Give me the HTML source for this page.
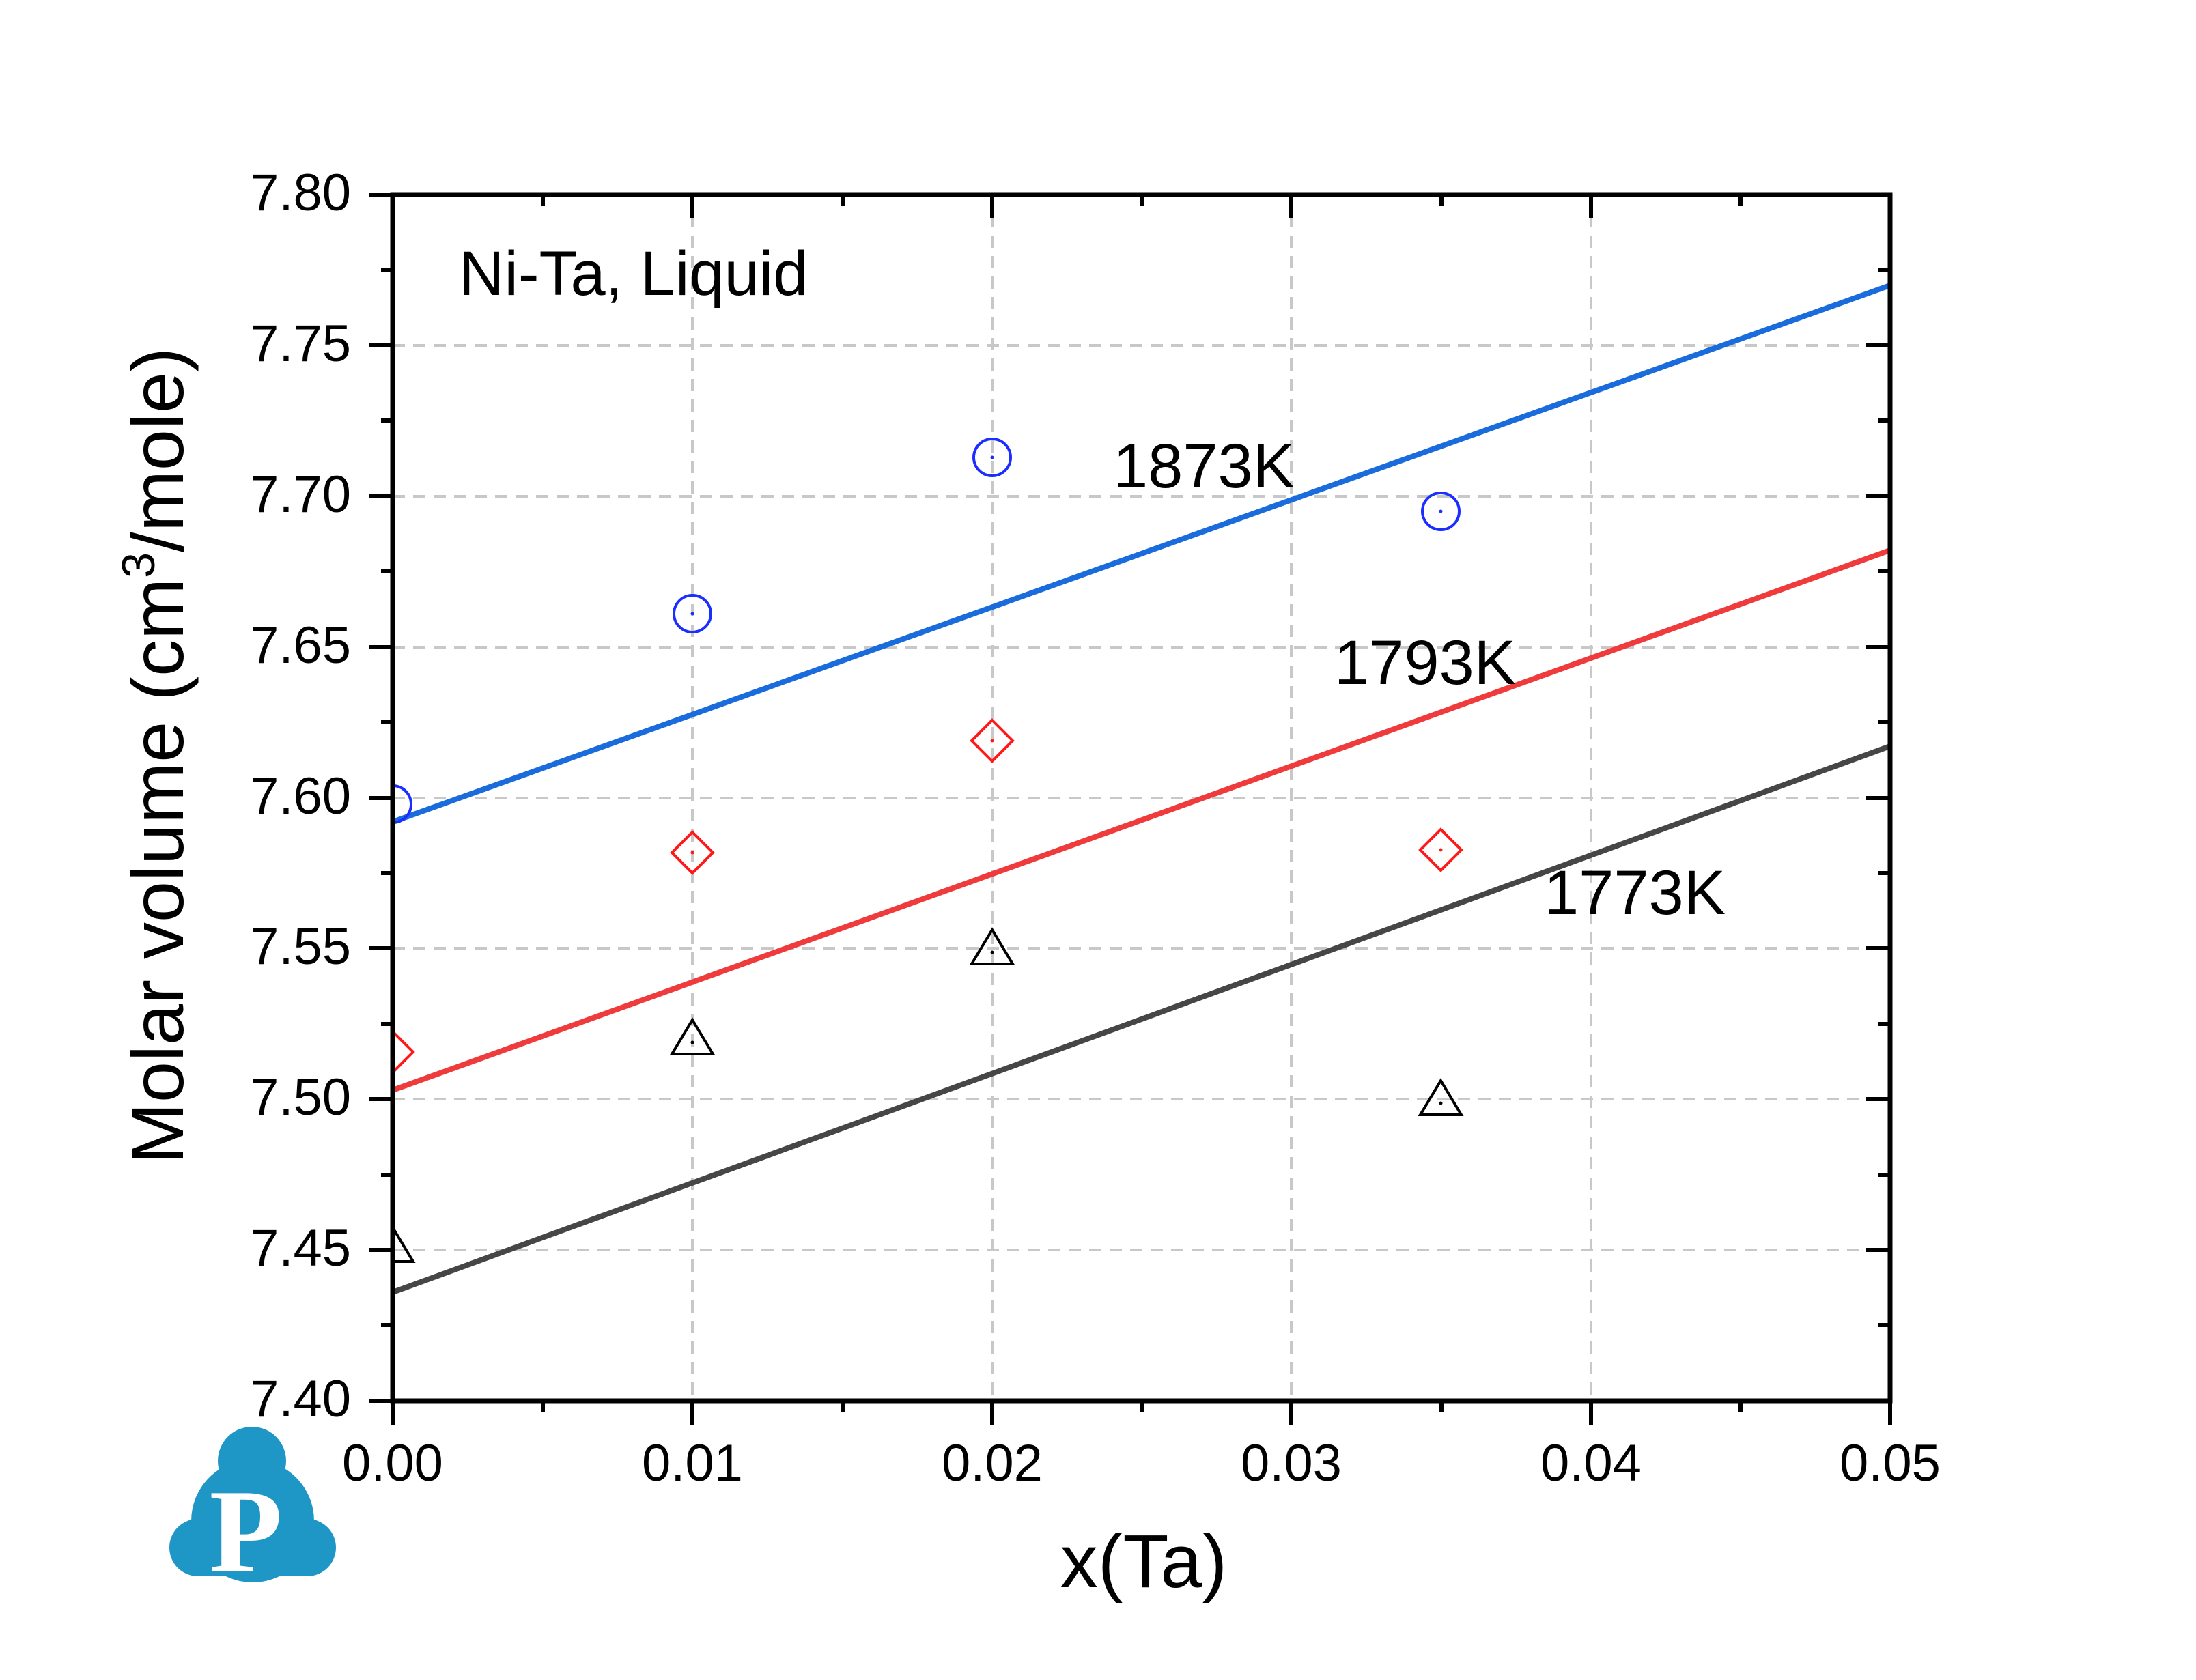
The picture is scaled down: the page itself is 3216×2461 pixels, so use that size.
<!DOCTYPE html>
<html><head><meta charset="utf-8"><style>html,body{margin:0;padding:0;background:#fff}svg{display:block}</style></head>
<body>
<svg width="3216" height="2461" viewBox="0 0 3216 2461" xmlns="http://www.w3.org/2000/svg" font-family="Liberation Sans, Arial, sans-serif">
<defs><clipPath id="pc"><rect x="575" y="285" width="2193" height="1767"/></clipPath></defs>
<rect width="3216" height="2461" fill="#fff"/>
<g stroke="#c8c8c8" stroke-width="4" stroke-dasharray="18,12">
<line x1="1014" y1="285" x2="1014" y2="2052"/>
<line x1="1453" y1="285" x2="1453" y2="2052"/>
<line x1="1891" y1="285" x2="1891" y2="2052"/>
<line x1="2330" y1="285" x2="2330" y2="2052"/>
<line x1="575" y1="506" x2="2768" y2="506"/>
<line x1="575" y1="727" x2="2768" y2="727"/>
<line x1="575" y1="948" x2="2768" y2="948"/>
<line x1="575" y1="1169" x2="2768" y2="1169"/>
<line x1="575" y1="1389" x2="2768" y2="1389"/>
<line x1="575" y1="1610" x2="2768" y2="1610"/>
<line x1="575" y1="1831" x2="2768" y2="1831"/>
</g>
<g stroke-width="8" fill="none">
<line x1="575" y1="1204" x2="2768" y2="418" stroke="#1a6bdc"/>
<line x1="575" y1="1597" x2="2768" y2="806" stroke="#ef3b3b"/>
<line x1="575" y1="1893" x2="2768" y2="1093" stroke="#464646"/>
</g>
<g clip-path="url(#pc)">
<g fill="none" stroke="#1a2eff" stroke-width="4">
<circle cx="575" cy="1178" r="27"/><circle cx="1014" cy="899" r="27"/><circle cx="1453" cy="670" r="27"/><circle cx="2110" cy="749" r="27"/>
</g>
<g fill="none" stroke="#ff1a1a" stroke-width="4">
<path d="M575 1511l30 30-30 30-30-30z"/><path d="M1014 1219l30 30-30 30-30-30z"/><path d="M1453 1055l30 30-30 30-30-30z"/><path d="M2110 1215l30 30-30 30-30-30z"/>
</g>
<g fill="none" stroke="#000" stroke-width="4">
<path d="M575 1798l30 50h-60z"/><path d="M1014 1494l30 50h-60z"/><path d="M1453 1362l30 50h-60z"/><path d="M2110 1583l30 50h-60z"/>
</g>
</g>
<g fill="#1a2eff"><circle cx="1014" cy="899" r="2.5"/><circle cx="1453" cy="670" r="2.5"/><circle cx="2110" cy="749" r="2.5"/></g>
<g fill="#ff1a1a"><circle cx="1014" cy="1249" r="2.5"/><circle cx="1453" cy="1085" r="2.5"/><circle cx="2110" cy="1245" r="2.5"/></g>
<g fill="#000"><circle cx="1014" cy="1527" r="2.5"/><circle cx="1453" cy="1395" r="2.5"/><circle cx="2110" cy="1616" r="2.5"/></g>
<rect x="575" y="285" width="2193" height="1767" fill="none" stroke="#000" stroke-width="7"/>
<g stroke="#000" stroke-width="6">
<path d="M540 285h35M540 506h35M540 727h35M540 948h35M540 1169h35M540 1389h35M540 1610h35M540 1831h35M540 2052h35"/>
<path d="M558 395h17M558 616h17M558 837h17M558 1058h17M558 1279h17M558 1500h17M558 1721h17M558 1941h17"/>
<path d="M2768 506h-35M2768 727h-35M2768 948h-35M2768 1169h-35M2768 1389h-35M2768 1610h-35M2768 1831h-35"/>
<path d="M2768 395h-17M2768 616h-17M2768 837h-17M2768 1058h-17M2768 1279h-17M2768 1500h-17M2768 1721h-17M2768 1941h-17"/>
<path d="M575 2052v35M1014 2052v35M1453 2052v35M1891 2052v35M2330 2052v35M2768 2052v35"/>
<path d="M795 2052v17M1234 2052v17M1672 2052v17M2111 2052v17M2549 2052v17"/>
<path d="M1014 285v35M1453 285v35M1891 285v35M2330 285v35"/>
<path d="M795 285v17M1234 285v17M1672 285v17M2111 285v17M2549 285v17"/>
</g>
<g font-size="76" text-anchor="end" fill="#000">
<text x="514" y="308">7.80</text><text x="514" y="529">7.75</text><text x="514" y="750">7.70</text><text x="514" y="971">7.65</text><text x="514" y="1192">7.60</text><text x="514" y="1412">7.55</text><text x="514" y="1633">7.50</text><text x="514" y="1854">7.45</text><text x="514" y="2075">7.40</text>
</g>
<g font-size="76" text-anchor="middle" fill="#000">
<text x="575" y="2169">0.00</text><text x="1014" y="2169">0.01</text><text x="1453" y="2169">0.02</text><text x="1891" y="2169">0.03</text><text x="2330" y="2169">0.04</text><text x="2768" y="2169">0.05</text>
</g>
<text x="1675" y="2325" font-size="110" text-anchor="middle">x(Ta)</text>
<text transform="translate(268,1107) rotate(-90)" font-size="108" text-anchor="middle">Molar volume (cm<tspan font-size="68" dy="-42">3</tspan><tspan dy="42">/mole)</tspan></text>
<g font-size="92">
<text x="672" y="432">Ni-Ta, Liquid</text>
<text x="1630" y="714">1873K</text>
<text x="1954" y="1002">1793K</text>
<text x="2261" y="1339">1773K</text>
</g>
<g fill="#1f97c6">
<circle cx="369" cy="2140" r="50"/><circle cx="370" cy="2228" r="90"/><circle cx="290" cy="2267" r="42"/><circle cx="450" cy="2267" r="42"/>
<rect x="290" y="2240" width="160" height="68"/>
</g>
<text x="360" y="2302" font-family="Liberation Serif, serif" font-weight="bold" font-size="175" fill="#fff" text-anchor="middle">P</text>
</svg>
</body></html>
